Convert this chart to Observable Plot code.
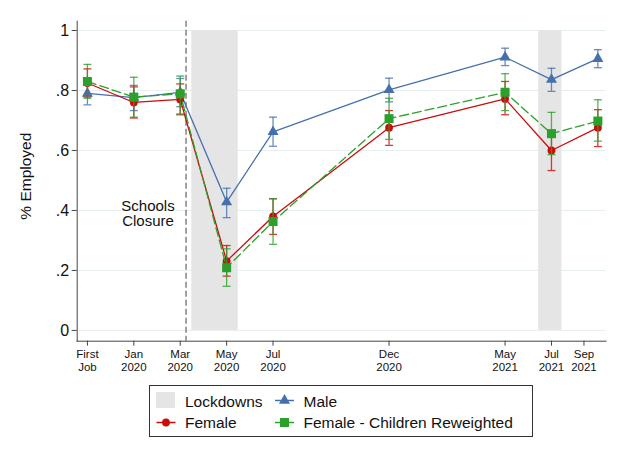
<!DOCTYPE html>
<html><head><meta charset="utf-8">
<script src="https://cdn.jsdelivr.net/npm/d3@7"></script>
<script src="https://cdn.jsdelivr.net/npm/@observablehq/plot@0.6"></script>
<style>
body{margin:0;background:#fff;font-family:"Liberation Sans",Arial,Helvetica,sans-serif;}
#wrap{position:relative;width:621px;height:453px;background:#fff;}
#legend{position:absolute;left:149px;top:385px;}
</style></head><body>
<div id="wrap"><div id="chart"></div><div id="legend"></div></div>
<script>
// months relative to Jan 2020
const waveMonths = [-2, 0, 2, 4, 6, 11, 16, 18, 20];
const tickMonths = [-2, 0, 2, 4, 6, 11, 16, 18, 19.4];
const tickLabels = ["First\nJob","Jan\n2020","Mar\n2020","May\n2020","Jul\n2020","Dec\n2020","May\n2021","Jul\n2021","Sep\n2021"];
const yTicks = [0, 0.2, 0.4, 0.6, 0.8, 1];

const maleEst = [0.790, 0.776, 0.794, 0.428, 0.662, 0.802, 0.911, 0.836, 0.906];
const maleLo  = [0.752, 0.733, 0.746, 0.376, 0.614, 0.762, 0.883, 0.797, 0.876];
const maleHi  = [0.828, 0.817, 0.840, 0.474, 0.711, 0.841, 0.941, 0.874, 0.936];

const femEst = [0.825, 0.760, 0.770, 0.231, 0.380, 0.676, 0.772, 0.600, 0.676];
const femLo  = [0.778, 0.708, 0.719, 0.181, 0.320, 0.617, 0.719, 0.533, 0.613];
const femHi  = [0.872, 0.812, 0.822, 0.283, 0.439, 0.733, 0.830, 0.667, 0.736];

const rwEst = [0.830, 0.778, 0.789, 0.209, 0.363, 0.706, 0.794, 0.656, 0.698];
const rwLo  = [0.774, 0.711, 0.722, 0.147, 0.287, 0.637, 0.733, 0.586, 0.631];
const rwHi  = [0.887, 0.844, 0.848, 0.272, 0.439, 0.774, 0.856, 0.727, 0.769];

const lockdownStart = [2.5, 17.45];
const lockdownEnd   = [4.5, 18.45];
const schoolsClosure = 2.25;
const schoolsLabel = "Schools\nClosure";
const schoolsLabelY = 0.40;

const seriesNames = ["Male", "Female", "Female - Children Reweighted"];
const seriesColors = ["#4670ad", "#cc0b0b", "#2ca02c"];

const series = [
  {name: seriesNames[0], est: maleEst, lo: maleLo, hi: maleHi, color: seriesColors[0], symbol: "triangle", r: 4.1, dash: null},
  {name: seriesNames[1], est: femEst, lo: femLo, hi: femHi, color: seriesColors[1], symbol: "circle", r: 3.9, dash: null},
  {name: seriesNames[2], est: rwEst, lo: rwLo, hi: rwHi, color: seriesColors[2], symbol: "square", r: 5.1, dash: "9,4"}
];
const lockdowns = lockdownStart.map((s, i) => ({start: s, end: lockdownEnd[i]}));

const capSym = {draw(ctx) { ctx.moveTo(-4, 0); ctx.lineTo(4, 0); }};
const yFmt = d => d === 0 ? "0" : d === 1 ? "1" : d3.format(".1f")(d).replace(/^0/, "");

const marks = [
  Plot.ruleY(yTicks, {stroke: "#e6eeee", strokeWidth: 1}),
  Plot.rectY(lockdowns, {x1: "start", x2: "end", y1: 0, y2: 1, fill: "#e5e5e5"}),
  Plot.ruleX([schoolsClosure], {stroke: "#555", strokeWidth: 1.1, strokeDasharray: "6,3"}),
  Plot.text([schoolsLabel], {x: schoolsClosure, y: schoolsLabelY, text: d => d, dx: -38, dy: 3, fontSize: 15, lineHeight: 1.05, fill: "#111", textAnchor: "middle"})
];
for (const s of series) {
  const rows = waveMonths.map((m, i) => ({x: m, y: s.est[i], lo: s.lo[i], hi: s.hi[i]}));
  marks.push(
    Plot.line(rows, {x: "x", y: "y", stroke: s.color, strokeWidth: 1.3, strokeDasharray: s.dash || undefined}),
    Plot.ruleX(rows, {x: "x", y1: "lo", y2: "hi", stroke: s.color, strokeOpacity: 0.8, strokeWidth: 1.3}),
    Plot.dot(rows, {x: "x", y: "lo", symbol: capSym, stroke: s.color, strokeOpacity: 0.8, strokeWidth: 1.3, r: 3}),
    Plot.dot(rows, {x: "x", y: "hi", symbol: capSym, stroke: s.color, strokeOpacity: 0.8, strokeWidth: 1.3, r: 3}),
    Plot.dot(rows, {x: "x", y: "y", symbol: s.symbol, fill: s.color, stroke: "none", r: s.r})
  );
}
marks.push(
  Plot.axisY({ticks: yTicks, tickFormat: yFmt, tickSize: 5, tickPadding: 3, fontSize: 16, label: null, stroke: "#444", fill: "#111"}),
  Plot.axisX({ticks: tickMonths, tickFormat: d => tickLabels[tickMonths.indexOf(d)], tickSize: 5, tickPadding: 3, fontSize: 11.5, lineHeight: 1.12, label: null, stroke: "#444", fill: "#111"}),
  Plot.frame({anchor: "left", stroke: "#444"}),
  Plot.frame({anchor: "bottom", stroke: "#444"}),
  Plot.text(["% Employed"], {frameAnchor: "left", text: d => d, rotate: -90, dx: -51.5, dy: -5, fontSize: 15.5, fill: "#111", textAnchor: "middle", lineAnchor: "middle"})
);

const chart = Plot.plot({
  width: 621, height: 381,
  marginLeft: 76.7, marginRight: 15.5, marginTop: 20.7, marginBottom: 40.3,
  style: {fontFamily: '"Liberation Sans", Arial, Helvetica, sans-serif', background: "#fff", color: "#111"},
  x: {domain: [-2.44, 20.35]},
  y: {domain: [-0.036, 1.031]},
  marks
});
document.getElementById("chart").appendChild(chart);

// legend
const L = d3.select("#legend").append("svg").attr("width", 385).attr("height", 53)
  .style("font-family", '"Liberation Sans", Arial, Helvetica, sans-serif');
L.append("rect").attr("x", 0.5).attr("y", 0.5).attr("width", 383).attr("height", 51).attr("fill", "#fff").attr("stroke", "#333");
L.append("rect").attr("x", 7).attr("y", 7).attr("width", 19).attr("height", 16).attr("fill", "#e5e5e5");
L.append("text").attr("x", 36).attr("y", 21.5).attr("font-size", 15.5).attr("fill", "#111").text("Lockdowns");
const items = [
  {s: series[0], x: 126, y: 15.5, tx: 154.5, ty: 21.5},
  {s: series[1], x: 7.5, y: 37.5, tx: 36, ty: 42.5},
  {s: series[2], x: 126, y: 37.5, tx: 154.5, ty: 42.5}
];
for (const it of items) {
  L.append("line").attr("x1", it.x).attr("x2", it.x + 19).attr("y1", it.y).attr("y2", it.y).attr("stroke", it.s.color).attr("stroke-width", 1.5);
  const sym = it.s.symbol === "triangle" ? d3.symbolTriangle : it.s.symbol === "circle" ? d3.symbolCircle : d3.symbolSquare;
  L.append("path").attr("d", d3.symbol(sym, Math.PI * it.s.r * it.s.r)()).attr("transform", `translate(${it.x + 9.5},${it.y})`).attr("fill", it.s.color);
  L.append("text").attr("x", it.tx).attr("y", it.ty).attr("font-size", 15.5).attr("fill", "#111").text(it.s.name);
}
</script>
</body></html>
